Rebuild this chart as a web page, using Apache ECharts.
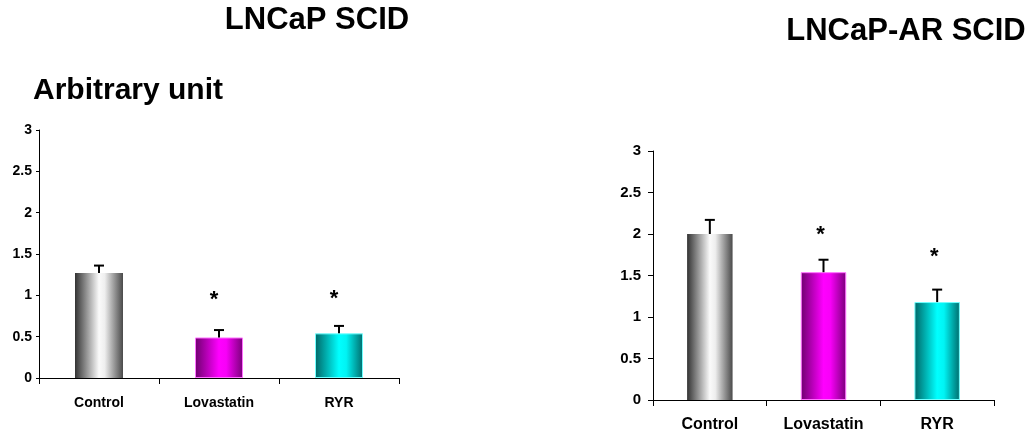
<!DOCTYPE html>
<html>
<head>
<meta charset="utf-8">
<script src="https://cdn.jsdelivr.net/npm/echarts@6/dist/echarts.min.js"></script>
<style>
  html, body { margin: 0; padding: 0; background: #fff; }
  #chart { width: 1032px; height: 436px; }
</style>
</head>
<body>
<div id="chart"></div>
<script>
// data
const categories = ['Control', 'Lovastatin', 'RYR'];
const leftMeans = [1.27, 0.49, 0.54];
const leftErr = [0.09, 0.09, 0.09];
const leftStars = [null, 1.0, 1.02];
const rightMeans = [2.0, 1.54, 1.18];
const rightErr = [0.17, 0.15, 0.15];
const rightStars = [null, 2.05, 1.78];
const yTicks = { min: 0, max: 3, interval: 0.5 };

const font = 'Arial, "Liberation Sans", sans-serif';

function grad(stops) {
  return new echarts.graphic.LinearGradient(0, 0, 1, 0,
    stops.map(function (s) { return { offset: s[0], color: s[1] }; }));
}
const barStyles = [
  { color: grad([[0, '#333333'], [0.5, '#fafafa'], [0.62, '#eeeeee'], [1, '#4a4a4a']]) },
  { color: grad([[0, '#6e006e'], [0.5, '#ff00ff'], [0.65, '#f800f8'], [1, '#7a007a']]),
    borderColor: '#ff70ff', borderWidth: 1 },
  { color: grad([[0, '#006666'], [0.5, '#00ffff'], [0.65, '#00f4f4'], [1, '#006c6c']]),
    borderColor: '#70ffff', borderWidth: 1 }
];

function barData(means) {
  return means.map(function (v, i) {
    return { value: v, itemStyle: barStyles[i] };
  });
}

function errItem(params, api) {
  const base = api.coord([api.value(0), api.value(1)]);
  const top = api.coord([api.value(0), api.value(1) + api.value(2)]);
  const st = { stroke: '#000', lineWidth: 2 };
  return {
    type: 'group',
    children: [
      { type: 'line', shape: { x1: base[0], y1: base[1], x2: top[0], y2: top[1] }, style: st },
      { type: 'line', shape: { x1: top[0] - 5, y1: top[1], x2: top[0] + 5, y2: top[1] }, style: st }
    ]
  };
}

// the asterisks sit a little left of the bar centre in the original
function starRenderer(dx) {
  return function (params, api) {
    const p = api.coord([api.value(0), api.value(1)]);
    return {
      type: 'text',
      style: {
        text: '*', x: p[0] + dx, y: p[1] + 5,
        font: 'bold 22px ' + font, fill: '#000',
        align: 'center', verticalAlign: 'middle'
      }
    };
  };
}

function xAxisFor(idx, size, margin) {
  return {
    type: 'category', gridIndex: idx, data: categories,
    axisLine: { lineStyle: { color: '#000', width: 1 } },
    axisTick: { show: true, length: 6, lineStyle: { color: '#000' } },
    axisLabel: { color: '#000', fontWeight: 'bold', fontSize: size, fontFamily: font, margin: margin }
  };
}
function yAxisFor(idx, size, margin, tick) {
  return {
    type: 'value', gridIndex: idx, min: yTicks.min, max: yTicks.max, interval: yTicks.interval,
    splitLine: { show: false },
    axisLine: { show: true, lineStyle: { color: '#000', width: 1 } },
    axisTick: { show: true, length: tick, lineStyle: { color: '#000' } },
    axisLabel: { color: '#000', fontWeight: 'bold', fontSize: size, fontFamily: font, margin: margin }
  };
}

function pairOf(idx, means, err, stars, dx) {
  return [
    { type: 'bar', xAxisIndex: idx, yAxisIndex: idx, barWidth: '40%', data: barData(means), z: 2 },
    { type: 'custom', xAxisIndex: idx, yAxisIndex: idx, renderItem: errItem, z: 3,
      data: means.map(function (m, i) { return [i, m, err[i]]; }) },
    { type: 'custom', xAxisIndex: idx, yAxisIndex: idx, renderItem: starRenderer(dx), z: 4,
      data: stars.map(function (s, i) { return s === null ? null : [i, s]; })
        .filter(function (d) { return d !== null; }) }
  ];
}

const chart = echarts.init(document.getElementById('chart'), null, { renderer: 'canvas' });
chart.setOption({
  animation: false,
  backgroundColor: '#fff',
  graphic: [
    { type: 'text', x: 317, y: 5,
      style: { text: 'LNCaP SCID', font: 'bold 31px ' + font, fill: '#000', align: 'center', verticalAlign: 'top' } },
    { type: 'text', x: 906, y: 16,
      style: { text: 'LNCaP-AR SCID', font: 'bold 31px ' + font, fill: '#000', align: 'center', verticalAlign: 'top' } },
    { type: 'text', x: 33, y: 76,
      style: { text: 'Arbitrary unit', font: 'bold 30px ' + font, fill: '#000', align: 'left', verticalAlign: 'top' } }
  ],
  grid: [
    { left: 39, right: 633, top: 130, bottom: 58 },
    { left: 653, right: 38, top: 151, bottom: 36 }
  ],
  xAxis: [xAxisFor(0, 14, 18), xAxisFor(1, 16, 17)],
  yAxis: [yAxisFor(0, 14, 7, 3), yAxisFor(1, 15, 12, 5)],
  series: pairOf(0, leftMeans, leftErr, leftStars, -5).concat(pairOf(1, rightMeans, rightErr, rightStars, -3))
});
</script>
</body>
</html>
